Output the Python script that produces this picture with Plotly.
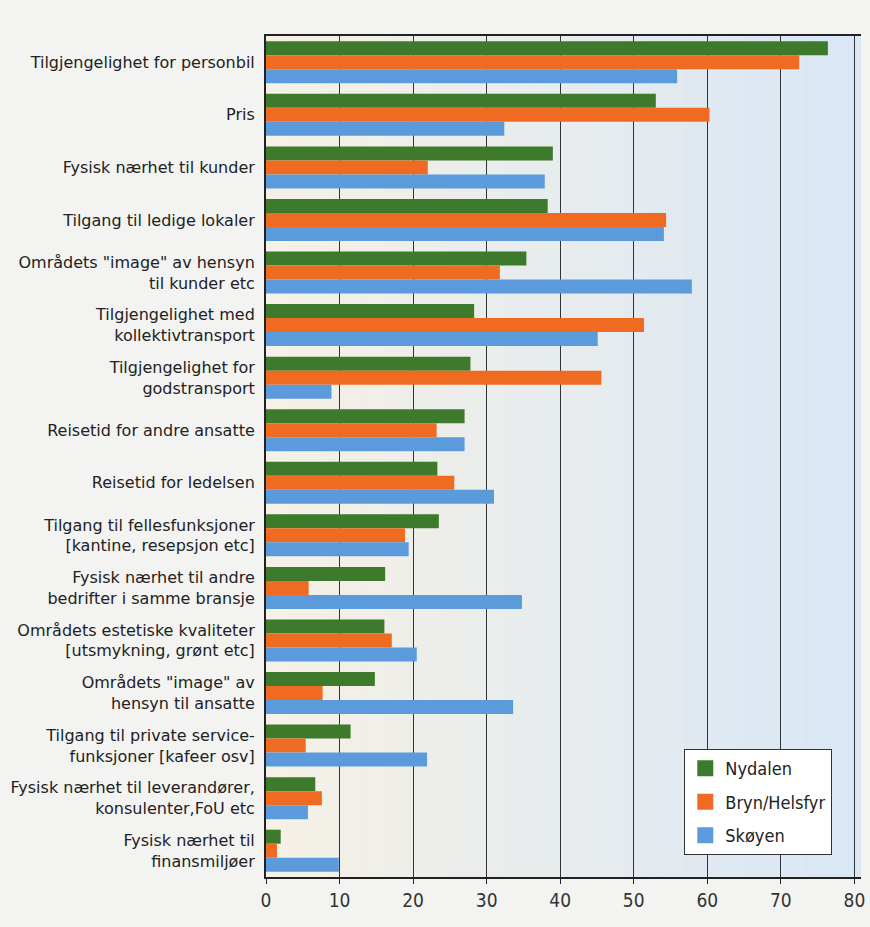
import plotly.graph_objects as go

categories = [
    "Tilgjengelighet for personbil",
    "Pris",
    "Fysisk nærhet til kunder",
    "Tilgang til ledige lokaler",
    "Områdets \"image\" av hensyn<br>til kunder etc",
    "Tilgjengelighet med<br>kollektivtransport",
    "Tilgjengelighet for<br>godstransport",
    "Reisetid for andre ansatte",
    "Reisetid for ledelsen",
    "Tilgang til fellesfunksjoner<br>[kantine, resepsjon etc]",
    "Fysisk nærhet til andre<br>bedrifter i samme bransje",
    "Områdets estetiske kvaliteter<br>[utsmykning, grønt etc]",
    "Områdets \"image\" av<br>hensyn til ansatte",
    "Tilgang til private service-<br>funksjoner [kafeer osv]",
    "Fysisk nærhet til leverandører,<br>konsulenter,FoU etc",
    "Fysisk nærhet til<br>finansmiljøer",
]

nydalen = [76.4, 53.0, 39.0, 38.3, 35.4, 28.3, 27.8, 27.0, 23.3, 23.5, 16.2, 16.1, 14.8, 11.5, 6.7, 2.0]
bryn_helsfyr = [72.5, 60.3, 22.0, 54.4, 31.8, 51.4, 45.6, 23.2, 25.6, 18.9, 5.8, 17.1, 7.7, 5.4, 7.6, 1.5]
skoyen = [55.9, 32.4, 37.9, 54.1, 57.9, 45.1, 8.9, 27.0, 31.0, 19.4, 34.8, 20.5, 33.6, 21.9, 5.7, 9.9]

series = [
    ("Nydalen", nydalen, "#3e7a2b"),
    ("Bryn/Helsfyr", bryn_helsfyr, "#f06b22"),
    ("Skøyen", skoyen, "#5b9bdc"),
]

x_ticks = [0, 10, 20, 30, 40, 50, 60, 70, 80]

LABEL_FONT = "DejaVu Sans"
NUM_FONT = "DejaVu Sans Condensed"

fig = go.Figure()
for name, vals, color in series:
    fig.add_trace(go.Bar(
        y=categories, x=vals, name=name, orientation="h",
        marker=dict(color=color, line=dict(width=0)),
        showlegend=False,
    ))

# legend entries with large square swatches
for i, (name, vals, color) in enumerate(series):
    fig.add_trace(go.Scatter(
        x=[None], y=[None], mode="markers", name=name,
        marker=dict(symbol="square", size=19, color=color),
        legendgroup=f"g{i}", showlegend=True,
    ))

# soft cream-to-blue wash behind the bars
n_strips = 30
for i in range(n_strips):
    t = i / (n_strips - 1)
    r = int(245 + (218 - 245) * t)
    g = int(241 + (231 - 241) * t)
    b = int(230 + (245 - 230) * t)
    fig.add_shape(
        type="rect", xref="x domain", yref="y domain",
        x0=i / n_strips, x1=(i + 1) / n_strips, y0=0, y1=1,
        fillcolor=f"rgb({r},{g},{b})", line=dict(width=0), layer="below",
    )

fig.update_layout(
    width=870, height=927,
    barmode="group", bargap=0.2, bargroupgap=0.0,
    paper_bgcolor="#f3f3f1", plot_bgcolor="#eef1f2",
    margin=dict(l=266, r=5, t=36, b=50),
    font=dict(family=LABEL_FONT, size=16, color="#222222"),
    showlegend=True,
    legend=dict(
        x=0.703, y=0.026, xanchor="left", yanchor="bottom",
        bgcolor="#ffffff", bordercolor="#333333", borderwidth=1,
        font=dict(family=NUM_FONT, size=18, color="#222222"),
        tracegroupgap=7, itemwidth=30,
    ),
)
fig.update_xaxes(
    range=[0, 80.9], tickvals=x_ticks, ticktext=[str(v) for v in x_ticks],
    showgrid=True, gridcolor="#333333", gridwidth=1,
    showline=True, linecolor="#222222", linewidth=2, mirror=True,
    ticks="outside", ticklen=5, tickcolor="#222222",
    tickfont=dict(family=NUM_FONT, size=19, color="#333333"),
    zeroline=False,
)
fig.update_yaxes(
    autorange="reversed", showgrid=False,
    showline=True, linecolor="#222222", linewidth=2,
    ticks="", ticklabelstandoff=6,
    tickfont=dict(family=LABEL_FONT, size=16, color="#222222"),
)

fig.write_html("out.html")
